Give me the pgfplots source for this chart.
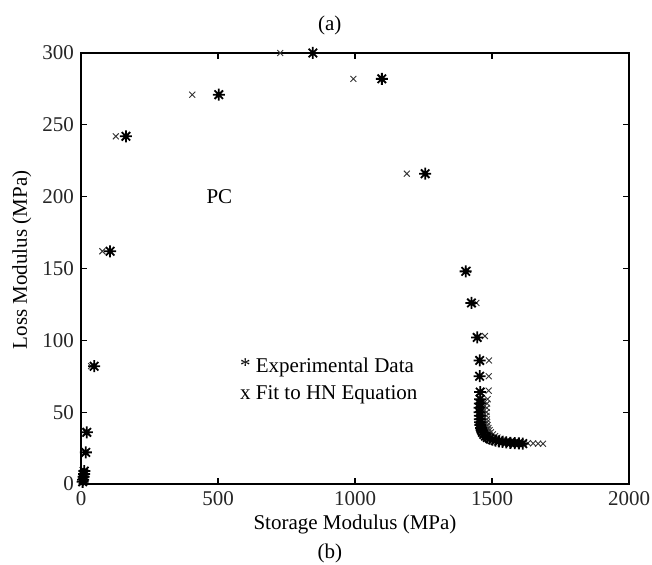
\documentclass[border=0pt]{standalone}
\usepackage{pgfplots}
\pgfplotsset{compat=1.18}
\usepackage{fontspec}
\setmainfont{Liberation Serif}

% MATLAB-style '*' marker: plus and cross on top of each other
\pgfdeclareplotmark{mstar}{%
  \pgfpathmoveto{\pgfqpoint{-\pgfplotmarksize}{0pt}}%
  \pgfpathlineto{\pgfqpoint{\pgfplotmarksize}{0pt}}%
  \pgfpathmoveto{\pgfqpoint{0pt}{-\pgfplotmarksize}}%
  \pgfpathlineto{\pgfqpoint{0pt}{\pgfplotmarksize}}%
  \pgfpathmoveto{\pgfqpoint{-.707\pgfplotmarksize}{-.707\pgfplotmarksize}}%
  \pgfpathlineto{\pgfqpoint{.707\pgfplotmarksize}{.707\pgfplotmarksize}}%
  \pgfpathmoveto{\pgfqpoint{-.707\pgfplotmarksize}{.707\pgfplotmarksize}}%
  \pgfpathlineto{\pgfqpoint{.707\pgfplotmarksize}{-.707\pgfplotmarksize}}%
  \pgfusepathqstroke}

\begin{document}
\begin{tikzpicture}[font=\fontsize{10.5}{12}\selectfont]
\begin{axis}[
  name=ax, at={(0,0)}, anchor=south west,
  scale only axis, width=274pt, height=215.5pt,
  xmin=0, xmax=2000, ymin=0, ymax=300,
  xtick={0,500,...,2000}, ytick={0,50,...,300},
  tick align=inside, major tick length=3pt,
  axis line style={line width=0.7pt}, tick style={line width=0.6pt, black},
  /pgf/number format/assume math mode=true,
  /pgf/number format/1000 sep={},
  tick label style={font=\fontsize{10.5}{12}\selectfont, text=black!85},
  xlabel={Storage Modulus (MPa)}, ylabel={Loss Modulus (MPa)},
  label style={text=black!85},
  every axis x label/.style={at={(axis description cs:0.5,-0.095)}, anchor=center},
  every axis y label/.style={at={(axis description cs:-0.108,0.52)}, anchor=center, rotate=90},
  clip=false,
]
% fit to HN equation (x)
\addplot[only marks, mark=x, mark size=2.1pt, line width=0.45pt, black!80] coordinates {
  (4,1.5) (6,3) (8,5) (10,7) (12,9) (14,22) (17,36) (37,82) (78,162) (127,242)
  (406,271) (727,300) (994,282) (1189,216) (1412,149) (1443,126) (1474,103)
  (1489,86) (1488,75) (1488,65) (1484,59) (1482,56) (1481,53) (1480,50)
  (1480,47.5) (1481,45) (1482,43) (1484,41) (1487,39) (1491,37.5) (1496,36)
  (1503,34.5) (1511,33.3) (1520,32.3) (1531,31.5) (1543,30.8) (1556,30.2)
  (1570,29.7) (1585,29.3) (1600,29) (1615,28.7) (1631,28.5) (1650,28.3)
  (1668,28.1) (1686,28)
};
% experimental data (*)
\addplot[only marks, mark=mstar, mark size=3pt, line width=0.9pt, black] coordinates {
  (6,1.5) (8,3) (10,5) (11,7) (12,9) (17.5,22) (21,36) (48,82) (106,162) (164,242)
  (503,271) (846,300) (1098,282) (1256,216) (1404,148) (1425,126) (1446,102)
  (1455,86) (1455,75) (1457,64) (1457,59) (1456,56) (1455,53) (1455,50)
  (1456,47.5) (1456,45) (1457,43) (1458,41) (1460,39) (1462,37.5) (1465,36)
  (1470,34.5) (1476,33.3) (1483,32.3) (1492,31.5) (1502,30.8) (1513,30.2)
  (1525,29.7) (1538,29.3) (1552,29) (1567,28.7) (1583,28.5) (1598,28.3) (1612,28.1)
};
\node at (axis cs:505,200) {PC};
\node[anchor=west] at (axis cs:555,81) {* Experimental Data};
\node[anchor=west] at (axis cs:555,62) {x Fit to HN Equation};
\node at (axis description cs:0.454,1.063) {(a)};
\node at (axis description cs:0.454,-0.16) {(b)};
\end{axis}
\pgfresetboundingbox
\path[use as bounding box] (-40.5pt,-40.5pt) rectangle (285.5pt,242pt);
\end{tikzpicture}
\end{document}
